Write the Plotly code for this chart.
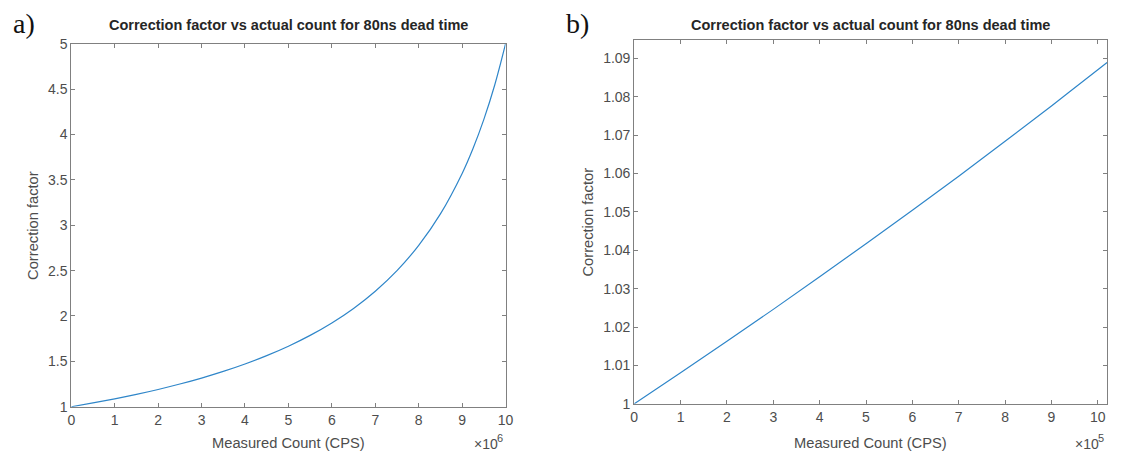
import plotly.graph_objects as go

# Panel a) : measured count (x10^6 CPS) vs correction factor
a_x = [0, 0.5, 1, 1.5, 2, 2.5, 3, 3.5, 4, 4.5, 5, 5.5, 6, 6.5, 7, 7.5, 8, 8.5, 9, 9.25, 9.5, 9.75, 10]
a_y = [1.0, 1.042, 1.087, 1.136, 1.19, 1.25, 1.316, 1.389, 1.471, 1.563, 1.667, 1.786, 1.923,
       2.083, 2.273, 2.5, 2.778, 3.125, 3.571, 3.846, 4.167, 4.545, 5.0]

# Panel b) : measured count (x10^5 CPS) vs correction factor
b_x = [0, 1, 2, 3, 4, 5, 6, 7, 8, 9, 10, 10.2]
b_y = [1.0, 1.0081, 1.0163, 1.0246, 1.0331, 1.0417, 1.0504, 1.0593, 1.0684, 1.0776, 1.087, 1.0889]

a_xticks = list(range(0, 11))
a_yticks = [1, 1.5, 2, 2.5, 3, 3.5, 4, 4.5, 5]
b_xticks = list(range(0, 11))
b_yticks = [1, 1.01, 1.02, 1.03, 1.04, 1.05, 1.06, 1.07, 1.08, 1.09]

title_text = "Correction factor vs actual count for 80ns dead time"
x_label = "Measured Count (CPS)"
y_label = "Correction factor"

W, H = 1123, 463
line_color = "#2f86c9"
axis_color = "#808080"
text_color = "#4d4d4d"
font_fam = "Liberation Sans, Arial, sans-serif"

fig = go.Figure()
fig.add_trace(go.Scatter(x=a_x, y=a_y, mode="lines", line=dict(color=line_color, width=1.2, shape="spline"),
                         xaxis="x", yaxis="y", showlegend=False))
fig.add_trace(go.Scatter(x=b_x, y=b_y, mode="lines", line=dict(color=line_color, width=1.2, shape="spline"),
                         xaxis="x2", yaxis="y2", showlegend=False))

# pixel boxes
aL, aR, aT, aB = 68, 507, 37, 413
bL, bR, bT, bB = 637, 1115, 33, 410

def px(v): return v / W
def py(v): return 1 - v / H

common = dict(showline=True, linecolor=axis_color, linewidth=1, mirror="ticks", ticks="inside",
              ticklen=4, tickcolor=axis_color, showgrid=False, zeroline=False,
              tickfont=dict(family=font_fam, size=14, color=text_color))

fig.update_layout(
    width=W, height=H, margin=dict(l=0, r=0, t=0, b=0),
    paper_bgcolor="white", plot_bgcolor="white",
    xaxis=dict(domain=[px(aL), px(aR)], range=[0, 10], tickvals=a_xticks, anchor="y", **common),
    yaxis=dict(domain=[py(aB), py(aT)], range=[1, 5], tickvals=a_yticks,
               ticktext=[("%g" % v) for v in a_yticks], anchor="x", **common),
    xaxis2=dict(domain=[px(bL), px(bR)], range=[0, 10.2], tickvals=b_xticks, anchor="y2", **common),
    yaxis2=dict(domain=[py(bB), py(bT)], range=[1, 1.0948], tickvals=b_yticks,
                ticktext=["1"] + [f"{v:.2f}" for v in b_yticks[1:]], anchor="x2", **common),
)

ann = []
for (L, R, T, B, lab, labx, ylx, exp) in [(aL, aR, aT, aB, "a)", 7, 30, "6"), (bL, bR, bT, bB, "b)", 566, 590, "5")]:
    ann.append(dict(text="<b>" + title_text + "</b>", x=px((L + R) / 2), y=py(18), xref="paper", yref="paper",
                    showarrow=False, font=dict(family=font_fam, size=14.5, color="#262626"),
                    xanchor="center", yanchor="middle"))
    ann.append(dict(text=x_label, x=px((L + R) / 2), y=py(451), xref="paper", yref="paper", showarrow=False,
                    font=dict(family=font_fam, size=14.7, color=text_color), xanchor="center", yanchor="middle"))
    ann.append(dict(text=y_label, x=px(ylx), y=py((T + B) / 2), xref="paper", yref="paper", showarrow=False,
                    textangle=-90, font=dict(family=font_fam, size=14.7, color=text_color),
                    xanchor="center", yanchor="middle"))
    ann.append(dict(text="\u00d710", x=px(R - 6), y=py(452), xref="paper", yref="paper",
                    showarrow=False, font=dict(family=font_fam, size=14, color=text_color),
                    xanchor="right", yanchor="middle"))
    ann.append(dict(text=exp, x=px(R - 11), y=py(445), xref="paper", yref="paper",
                    showarrow=False, font=dict(family=font_fam, size=11, color=text_color),
                    xanchor="left", yanchor="middle"))
    ann.append(dict(text=lab, x=px(labx), y=py(16), xref="paper", yref="paper", showarrow=False,
                    font=dict(family="Liberation Serif, Times New Roman, serif", size=28, color="#111111"),
                    xanchor="left", yanchor="middle"))
fig.update_layout(annotations=ann)

fig.write_html("out.html")
